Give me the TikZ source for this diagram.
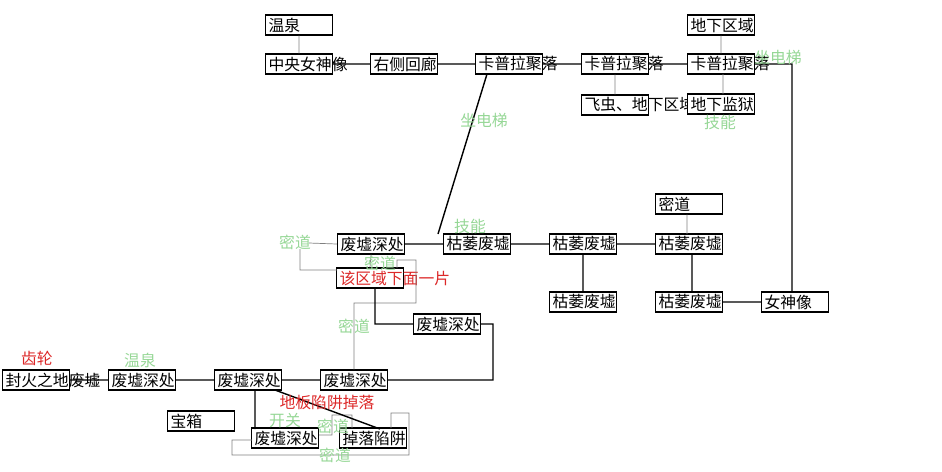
\documentclass[tikz,border=0pt]{standalone}
\usepackage{fontspec}
\setmainfont{Noto Sans CJK SC}
\usetikzlibrary{positioning}
\definecolor{lgreen}{RGB}{150,215,150}
\definecolor{lred}{RGB}{220,40,40}
\newcommand{\bx}[1]{\makebox[1.34cm][l]{\hspace{0.06cm}#1}}
\begin{document}
\begin{tikzpicture}[x=0.02cm,y=-0.02cm,semithick,
		font=\fontsize{9}{10}\selectfont]
		\tikzstyle{room}=[draw,thick,fill=white,minimum width=1.34cm,minimum height=0.4cm,inner sep=0pt]
		\tikzstyle{link}=[draw,thick]
		\tikzstyle{passage}=[draw,gray,thin]
		\tikzstyle{note}=[text=lgreen]
		\tikzstyle{warn}=[text=lred]
		\useasboundingbox (0,0) rectangle (942,471);
		
		% top area
		\node[room] (Spring)   at (299,25)  {\bx{温泉}};
		\node[room] (Goddess)  at (299,64)  {\bx{中央女神像}};
		\node[room] (Corridor) at (404,64)  {\bx{右侧回廊}};
		\node[room] (KaplaA)   at (509,64)  {\bx{卡普拉聚落}};
		\node[room] (KaplaB)   at (615,64)  {\bx{卡普拉聚落}};
		\node[room] (KaplaC)   at (721,64)  {\bx{卡普拉聚落}};
		\node[room] (Under)    at (721,25)  {\bx{地下区域}};
		\node[room] (Insect)   at (615,105) {\bx{飞虫、地下区域}};
		\node[room] (Prison)   at (721,104) {\bx{地下监狱}};
		
		% middle area
		\node[room] (RuinA)    at (371,244) {\bx{废墟深处}};
		\node[room] (WitherA)  at (477,244) {\bx{枯萎废墟}};
		\node[room] (WitherB)  at (583,244) {\bx{枯萎废墟}};
		\node[room] (WitherC)  at (689,244) {\bx{枯萎废墟}};
		\node[room] (Secret)   at (689,204) {\bx{密道}};
		\node[room] (WitherD)  at (583,302) {\bx{枯萎废墟}};
		\node[room] (WitherE)  at (689,302) {\bx{枯萎废墟}};
		\node[room] (Statue)   at (795,302) {\bx{女神像}};
		\node[room] (Area)     at (370,278) {\bx{\color{lred}该区域下面一片}};
		\node[room] (RuinB)    at (447,324) {\bx{废墟深处}};
		
		% bottom area
		\node[room] (Fire)     at (36,380)  {\bx{封火之地废墟}};
		\node[room] (RuinC)    at (142,380) {\bx{废墟深处}};
		\node[room] (RuinD)    at (248,380) {\bx{废墟深处}};
		\node[room] (RuinE)    at (354,380) {\bx{废墟深处}};
		\node[room] (Chest)    at (201,421) {\bx{宝箱}};
		\node[room] (RuinF)    at (285,438) {\bx{废墟深处}};
		\node[room] (Trap)     at (373,438) {\bx{掉落陷阱}};
		
		\path[passage] (Spring) -- (Goddess)
		(KaplaB) -- (Insect)
		(Under) -- (KaplaC)
		(723,74) -- (723,94)
		(Secret.south -| 687,0) -- (687,234)
		(RuinA.west) -- (309,243)
		(300,249) -- (300,270) -- (337,270)
		(RuinA.south) -- (Area.north)
		(397,268) -- (397,260) -- (416,260) -- (416,303) -- (354,303) -- (RuinE.north)
		(319,435) -- (332,435) -- (332,415) -- (352,415) -- (352,428)
		(252,440) -- (232,440) -- (232,455) -- (409,455) -- (409,413) -- (391,413) -- (391,428);
		\path[link] (Goddess) -- (Corridor) -- (KaplaA) -- (KaplaB) -- (KaplaC)
		(KaplaC.east) -- (792,64) -- (792,292)
		(487,74) -- (438,234)
		(RuinA) -- (WitherA) -- (WitherB) -- (WitherC)
		(WitherB) -- (WitherD)
		(692,254) -- (692,292)
		(WitherE) -- (Statue)
		(375,288) -- (375,324) -- (RuinB.west)
		(RuinB.east) -- (493,324) -- (493,380) -- (RuinE.east)
		(Fire) -- (RuinC) -- (RuinD) -- (RuinE)
		(255,390) -- (255,429)
		(275,390) -- (380,429);
		
		% labels
		\node[note] (SkillA)  at (720,122) {技能};
		\node[note] (LiftA)   at (778,57)  {坐电梯};
		\node[note] (LiftB)   at (484,120) {坐电梯};
		\node[note] (SkillB)  at (470,226) {技能};
		\node[note] (SecA)    at (295,242) {密道};
		\node[note] (SecB)    at (380,263) {密道};
		\node[note] (SecC)    at (354,326) {密道};
		\node[warn] (Gear)    at (37,358)  {齿轮};
		\node[note] (SpringB) at (140,360) {温泉};
		\node[warn] (Floor)   at (327,402) {地板陷阱掉落};
		\node[note] (Switch)  at (285,421) {开关};
		\node[note] (SecD)    at (333,426) {密道};
		\node[note] (SecE)    at (335,455) {密道};
\end{tikzpicture}
\end{document}
